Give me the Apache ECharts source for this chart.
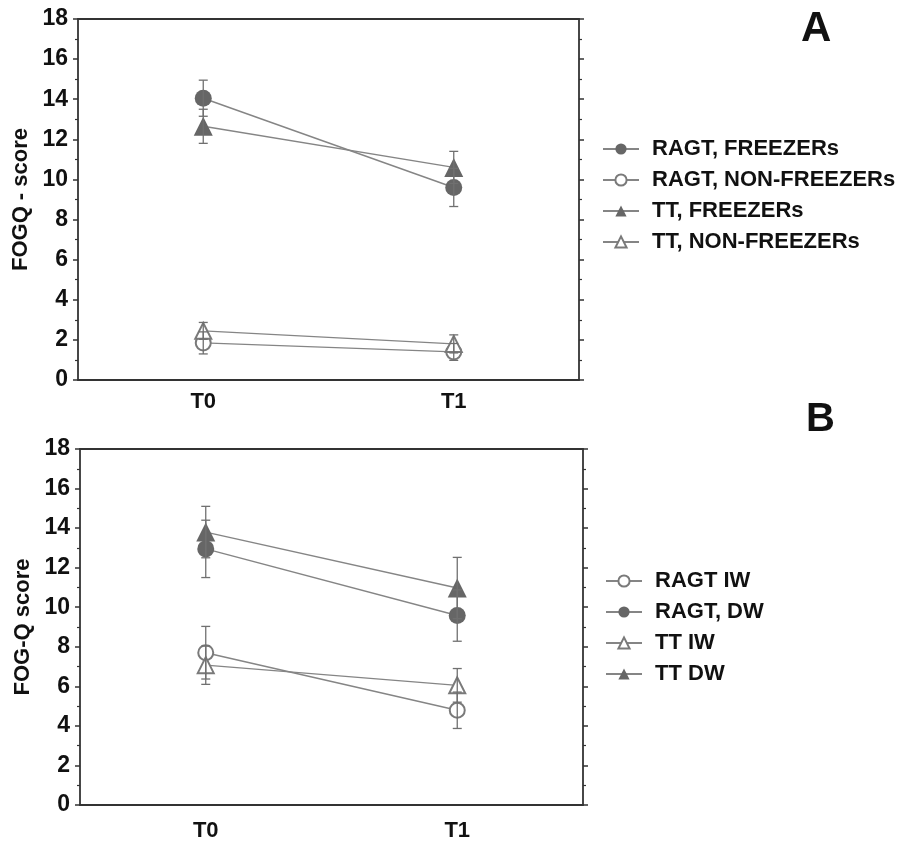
<!DOCTYPE html>
<html>
<head>
<meta charset="utf-8">
<script src="https://cdn.jsdelivr.net/npm/echarts@6/dist/echarts.min.js"></script>
<style>html,body{margin:0;padding:0;background:#fff}#c{width:898px;height:842px}</style>
</head>
<body>
<div id="c"></div>
<script>
// ---- data ----
const timepoints = ['T0', 'T1'];
const yTicksMax = 18;
const yTickStep = 2;

// Panel A
const ragtFreezersA = [14.05, 9.6];
const ragtFreezersAErr = [0.9, 0.95];
const ragtNonFreezersA = [1.85, 1.4];
const ragtNonFreezersAErr = [0.55, 0.42];
const ttFreezersA = [12.65, 10.6];
const ttFreezersAErr = [0.85, 0.8];
const ttNonFreezersA = [2.45, 1.8];
const ttNonFreezersAErr = [0.42, 0.45];

// Panel B
const ragtIWB = [7.7, 4.79];
const ragtIWBErr = [1.33, 0.92];
const ragtDWB = [12.95, 9.58];
const ragtDWBErr = [1.45, 1.3];
const ttIWB = [7.07, 6.05];
const ttIWBErr = [0.97, 0.85];
const ttDWB = [13.8, 10.97];
const ttDWBErr = [1.3, 1.55];

const namesA = ['RAGT, FREEZERs', 'RAGT, NON-FREEZERs', 'TT, FREEZERs', 'TT, NON-FREEZERs'];
const namesB = ['RAGT IW', 'RAGT, DW', 'TT IW', 'TT DW'];

// ---- styles ----
const FONT = '"Liberation Sans", Arial, sans-serif';
const AXIS = '#333';
const LINE = '#858585';
const FILL = '#666';
const EMPTY = '#7a7a7a';

function errData(vals, errs) {
  return vals.map((v, i) => [i, v - errs[i], v + errs[i]]);
}
function errRender(params, api) {
  const x = api.value(0);
  const lo = api.coord([x, api.value(1)]);
  const hi = api.coord([x, api.value(2)]);
  const w = 4.5;
  const st = { stroke: '#707070', lineWidth: 1.3 };
  return {
    type: 'group',
    children: [
      { type: 'line', shape: { x1: lo[0], y1: lo[1], x2: hi[0], y2: hi[1] }, style: st },
      { type: 'line', shape: { x1: lo[0] - w, y1: lo[1], x2: lo[0] + w, y2: lo[1] }, style: st },
      { type: 'line', shape: { x1: hi[0] - w, y1: hi[1], x2: hi[0] + w, y2: hi[1] }, style: st }
    ]
  };
}

function lineSeries(name, data, symbol, filled, gi) {
  const tri = symbol.indexOf('riangle') >= 0;
  return {
    type: 'line', name: name, data: data, xAxisIndex: gi * 2, yAxisIndex: gi * 2,
    symbol: symbol, symbolSize: tri ? (filled ? 19 : 16) : (filled ? 17 : 15),
    lineStyle: { color: LINE, width: 1.4 },
    itemStyle: filled ? { color: FILL } : { color: EMPTY, borderColor: EMPTY, borderWidth: 1.1 },
    z: 3, animation: false
  };
}
function errSeries(vals, errs, gi) {
  return {
    type: 'custom', renderItem: errRender, data: errData(vals, errs),
    xAxisIndex: gi * 2, yAxisIndex: gi * 2, encode: { x: 0, y: [1, 2] },
    z: 4, silent: true, animation: false
  };
}

function xAxes(gi) {
  return [
    {
      type: 'category', gridIndex: gi, data: timepoints, position: 'bottom',
      boundaryGap: true,
      axisLine: { onZero: false, lineStyle: { color: AXIS, width: 1.8 } },
      axisTick: { alignWithLabel: true, length: 5, lineStyle: { color: AXIS, width: 1.5 } },
      axisLabel: { color: '#111', fontFamily: FONT, fontWeight: 'bold', fontSize: 22, margin: gi === 0 ? 11 : 15 },
      splitLine: { show: false }
    },
    {
      type: 'category', gridIndex: gi, data: timepoints, position: 'top',
      boundaryGap: true,
      axisLine: { onZero: false, lineStyle: { color: AXIS, width: 1.8 } },
      axisTick: { alignWithLabel: true, length: 4, lineStyle: { color: AXIS, width: 1.5 } },
      axisLabel: { show: false },
      splitLine: { show: false }
    }
  ];
}
function yAxes(gi, title) {
  return [
    {
      type: 'value', gridIndex: gi, min: 0, max: yTicksMax, interval: yTickStep, position: 'left',
      name: title, nameLocation: 'middle', nameGap: 40, nameRotate: 90,
      nameTextStyle: { color: '#111', fontFamily: FONT, fontWeight: 'bold', fontSize: 22 },
      axisLine: { show: true, onZero: false, lineStyle: { color: AXIS, width: 1.8 } },
      axisTick: { show: true, length: 5, lineStyle: { color: AXIS, width: 1.5 } },
      minorTick: { show: true, splitNumber: 2, length: 3, lineStyle: { color: AXIS, width: 1.2 } },
      axisLabel: { color: '#111', fontFamily: FONT, fontWeight: 'bold', fontSize: 23, margin: 10 },
      splitLine: { show: false }
    },
    {
      type: 'value', gridIndex: gi, min: 0, max: yTicksMax, interval: yTickStep, position: 'right',
      axisLine: { show: true, onZero: false, lineStyle: { color: AXIS, width: 1.8 } },
      axisTick: { show: true, length: 5, lineStyle: { color: AXIS, width: 1.5 } },
      minorTick: { show: true, splitNumber: 2, length: 3, lineStyle: { color: AXIS, width: 1.2 } },
      axisLabel: { show: false },
      splitLine: { show: false }
    }
  ];
}

const legendText = { color: '#111', fontFamily: FONT, fontWeight: 'bold', fontSize: 22, padding: [0, 0, 0, 8] };

const option = {
  backgroundColor: '#fff',
  animation: false,
  grid: [
    { left: 78, top: 19, width: 501, height: 361 },
    { left: 80, top: 449, width: 503, height: 357 }
  ],
  xAxis: [...xAxes(0), ...xAxes(1)],
  yAxis: [...yAxes(0, 'FOGQ - score'), ...yAxes(1, 'FOG-Q score')],
  legend: [
    {
      data: namesA, orient: 'vertical', left: 597, top: 133,
      itemWidth: 36, itemHeight: 14, itemGap: 9, textStyle: legendText, selectedMode: false
    },
    {
      data: namesB, orient: 'vertical', left: 600, top: 565,
      itemWidth: 36, itemHeight: 14, itemGap: 9, textStyle: legendText, selectedMode: false
    }
  ],
  graphic: [
    { type: 'text', left: 801, top: 8, style: { text: 'A', fontFamily: FONT, fontWeight: 'bold', fontSize: 42, fill: '#111' } },
    { type: 'text', left: 806, top: 400, style: { text: 'B', fontFamily: FONT, fontWeight: 'bold', fontSize: 40, fill: '#111' } }
  ],
  series: [
    lineSeries(namesA[0], ragtFreezersA, 'circle', true, 0),
    lineSeries(namesA[1], ragtNonFreezersA, 'emptyCircle', false, 0),
    lineSeries(namesA[2], ttFreezersA, 'triangle', true, 0),
    lineSeries(namesA[3], ttNonFreezersA, 'emptyTriangle', false, 0),
    errSeries(ragtFreezersA, ragtFreezersAErr, 0),
    errSeries(ragtNonFreezersA, ragtNonFreezersAErr, 0),
    errSeries(ttFreezersA, ttFreezersAErr, 0),
    errSeries(ttNonFreezersA, ttNonFreezersAErr, 0),

    lineSeries(namesB[0], ragtIWB, 'emptyCircle', false, 1),
    lineSeries(namesB[1], ragtDWB, 'circle', true, 1),
    lineSeries(namesB[2], ttIWB, 'emptyTriangle', false, 1),
    lineSeries(namesB[3], ttDWB, 'triangle', true, 1),
    errSeries(ragtIWB, ragtIWBErr, 1),
    errSeries(ragtDWB, ragtDWBErr, 1),
    errSeries(ttIWB, ttIWBErr, 1),
    errSeries(ttDWB, ttDWBErr, 1)
  ]
};

const chart = echarts.init(document.getElementById('c'), null, { renderer: 'canvas' });
chart.setOption(option);
</script>
</body>
</html>
